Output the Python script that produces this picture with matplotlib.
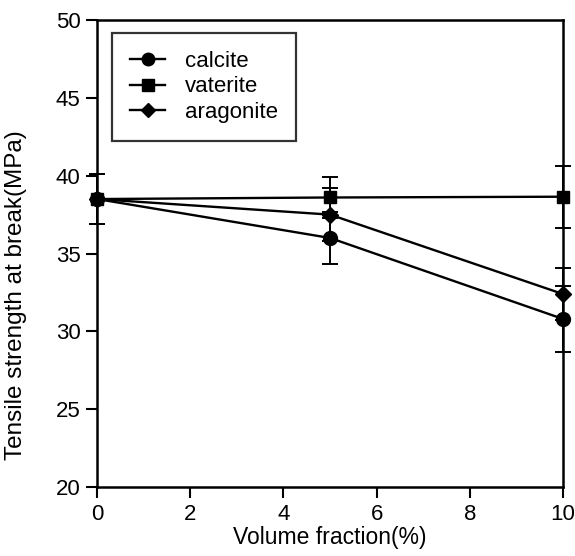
import numpy as np
import matplotlib.pyplot as plt
from matplotlib.lines import Line2D

plt.rcParams['font.family'] = ['Liberation Sans', 'DejaVu Sans']

volume = [0, 5, 10]
calcite = [38.5, 36.0, 30.8]
calcite_err = [1.6, 1.7, 2.1]
vaterite = [38.5, 38.6, 38.65]
vaterite_err = [1.6, 1.3, 2.0]
aragonite = [38.5, 37.5, 32.4]
aragonite_err = [1.6, 1.7, 1.7]

fig = plt.figure(figsize=(5.75, 5.56), dpi=100)
ax = fig.add_axes([0.169, 0.124, 0.81, 0.84])

series = [('calcite', calcite, calcite_err, 'o', 10),
          ('vaterite', vaterite, vaterite_err, 's', 9),
          ('aragonite', aragonite, aragonite_err, 'D', 8)]
handles = []
for name, y, err, m, ms in series:
    ax.errorbar(volume, y, yerr=err, color='black', marker=m, markersize=ms,
                linewidth=1.7, elinewidth=1.4, capsize=6, capthick=1.4,
                clip_on=False, zorder=3)
    handles.append(Line2D([], [], color='black', marker=m, markersize=ms - 1,
                          linewidth=1.7, label=name))

ax.set_xlim(0, 10)
ax.set_ylim(20, 50)
ax.set_xticks(np.arange(0, 11, 2))
ax.set_yticks(np.arange(20, 51, 5))
ax.tick_params(direction='out', length=8, width=1.5, labelsize=16, pad=4)
for s in ax.spines.values():
    s.set_linewidth(1.8)

ax.set_xlabel('Volume fraction(%)', fontsize=16.5, labelpad=1)
ax.set_ylabel('Tensile strength at break(MPa)', fontsize=17.5)
ax.yaxis.set_label_coords(-0.15, 0.41)

leg = ax.legend(handles=handles, loc='upper left', bbox_to_anchor=(0.032, 0.972),
                fontsize=16, handlelength=1.6, frameon=True, fancybox=False,
                borderpad=0.8, labelspacing=0.2, handletextpad=0.9,
                borderaxespad=0)
leg.get_frame().set_edgecolor('black')
leg.get_frame().set_linewidth(1.6)

fig.savefig('out.png', dpi=100)
